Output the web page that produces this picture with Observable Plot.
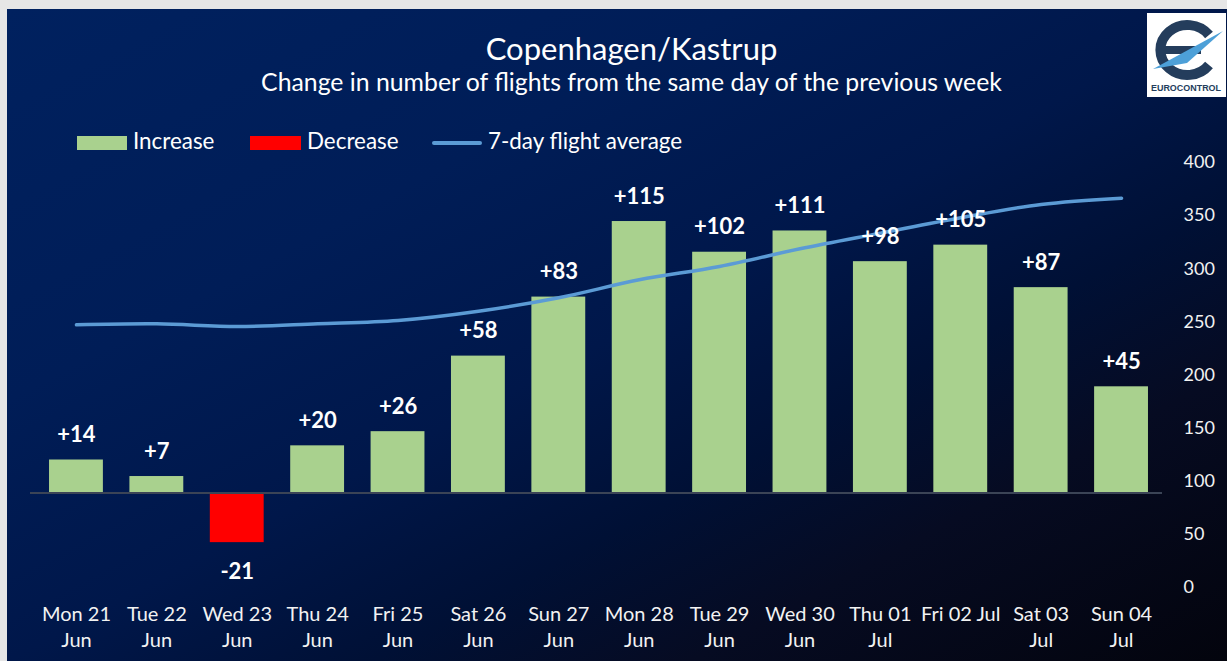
<!DOCTYPE html>
<html>
<head>
<meta charset="utf-8">
<script src="https://cdn.jsdelivr.net/npm/d3@7"></script>
<script src="https://cdn.jsdelivr.net/npm/@observablehq/plot@0.6"></script>
<style>
  html, body { margin: 0; padding: 0; background: #e6e6e6; }
  #wrap { position: relative; width: 1227px; height: 661px; overflow: hidden; background: #e6e6e6; font-family: Lato, "Open Sans", sans-serif; color: #fff; }
  #panel { position: absolute; left: 7px; top: 9px; right: 0; bottom: 0;
    background: linear-gradient(to bottom right, #00215f 0%, #001d57 30%, #00174a 50%, #001035 65%, #060b22 78%, #03040d 100%); }
  .txt { position: absolute; white-space: nowrap; line-height: 1; }
  #title { left: 18px; width: 1227px; text-align: center; top: 32.5px; font-size: 31px; }
  #subtitle { left: 18px; width: 1227px; text-align: center; top: 70px; font-size: 24.8px; }
  .sw { position: absolute; }
  .leg { font-size: 22.4px; top: 130px; }
  #chart { position: absolute; left: 0; top: 150px; }
</style>
</head>
<body>
<div id="wrap">
  <div id="panel"></div>
  <div id="title" class="txt">Copenhagen/Kastrup</div>
  <div id="subtitle" class="txt">Change in number of flights from the same day of the previous week</div>
  <div class="sw" style="left:77px;top:136px;width:50px;height:14px;background:#a9d18e"></div>
  <div class="txt leg" style="left:133px">Increase</div>
  <div class="sw" style="left:250px;top:136px;width:51px;height:14px;background:#ff0000"></div>
  <div class="txt leg" style="left:307px">Decrease</div>
  <div class="sw" style="left:432px;top:141px;width:50px;height:4px;border-radius:2px;background:#5b9bd5"></div>
  <div class="txt leg" style="left:488px">7-day flight average</div>
  <svg style="position:absolute;left:1147px;top:13px" width="79" height="84" viewBox="0 0 79 84">
    <rect x="0" y="0" width="79" height="84" fill="#ffffff"/>
    <path d="M62 22 A27 25 0 1 0 62 52" fill="none" stroke="#243d5c" stroke-width="10"/>
    <rect x="14" y="33" width="40" height="8" fill="#243d5c"/>
    <path d="M6 56 L76 18 L40 50 Z" fill="#4da0d8"/>
    <text x="39" y="78" text-anchor="middle" font-family="Liberation Sans, Arial, sans-serif" font-size="9.5" font-weight="bold" fill="#243d5c" textLength="70" lengthAdjust="spacingAndGlyphs">EUROCONTROL</text>
  </svg>
  <div id="chart"></div>
</div>
<script>
const days = ["Mon 21","Tue 22","Wed 23","Thu 24","Fri 25","Sat 26","Sun 27","Mon 28","Tue 29","Wed 30","Thu 01","Fri 02 Jul","Sat 03","Sun 04"];
const months = ["Jun","Jun","Jun","Jun","Jun","Jun","Jun","Jun","Jun","Jun","Jul","","Jul","Jul"];
const changes = [14, 7, -21, 20, 26, 58, 83, 115, 102, 111, 98, 105, 87, 45];
const avg7 = [247.2, 248.2, 245.6, 248.2, 251.3, 260.0, 272.7, 289.6, 302.1, 318.8, 333.5, 348.0, 360.5, 366.4];
const rightTicks = [0, 50, 100, 150, 200, 250, 300, 350, 400];
const changeDomain = [-40, 140];
const avgDomain = [0, 400];

const labels = days.map((d, i) => months[i] ? d + "\n" + months[i] : d);
const data = labels.map((l, i) => ({day: l, change: changes[i], avg: avg7[i]}));
const toLeft = d3.scaleLinear(avgDomain, changeDomain);
const fmt = v => (v > 0 ? "+" : "") + v;

const chart = Plot.plot({
  width: 1227,
  height: 511,
  marginLeft: 30,
  marginRight: 65,
  marginTop: 0,
  marginBottom: 62,
  style: {fontFamily: "Lato, 'Open Sans', sans-serif", fontSize: "19px", color: "#f2f2f2", background: "transparent", overflow: "visible"},
  x: {domain: labels, range: [22.5, 1174.5], padding: 0.33, round: false, axis: null},
  y: {domain: changeDomain, range: [437, 12], axis: null},
  marks: [
    Plot.barY(data.filter(d => d.change >= 0), {x: "day", y: "change", fill: "#a9d18e"}),
    Plot.barY(data.filter(d => d.change < 0), {x: "day", y: "change", fill: "#ff0000"}),
    Plot.ruleY([0], {stroke: "#3b4456", strokeWidth: 2}),
    Plot.lineY(data, {x: "day", y: d => toLeft(d.avg), stroke: "#5b9bd5", strokeWidth: 3.5, curve: "catmull-rom", strokeLinecap: "round"}),
    Plot.text(data.filter(d => d.change >= 0), {x: "day", y: "change", text: d => fmt(d.change), dy: -25, fill: "#ffffff", fontWeight: "bold", fontSize: 22}),
    Plot.text(data.filter(d => d.change < 0), {x: "day", y: "change", text: d => fmt(d.change), dy: 29, fill: "#ffffff", fontWeight: "bold", fontSize: 22}),
    Plot.axisX({anchor: "bottom", label: null, tickSize: 0, tickPadding: 3, fontSize: 20, lineHeight: 1.3, fill: "#f2f2f2"}),
    Plot.axisY(rightTicks.map(toLeft), {anchor: "right", label: null, tickSize: 0, tickPadding: 21, tickFormat: d => Math.round(toLeft.invert(d)), fontSize: 18, fill: "#f2f2f2"})
  ]
});
document.getElementById("chart").appendChild(chart);
</script>
</body>
</html>
